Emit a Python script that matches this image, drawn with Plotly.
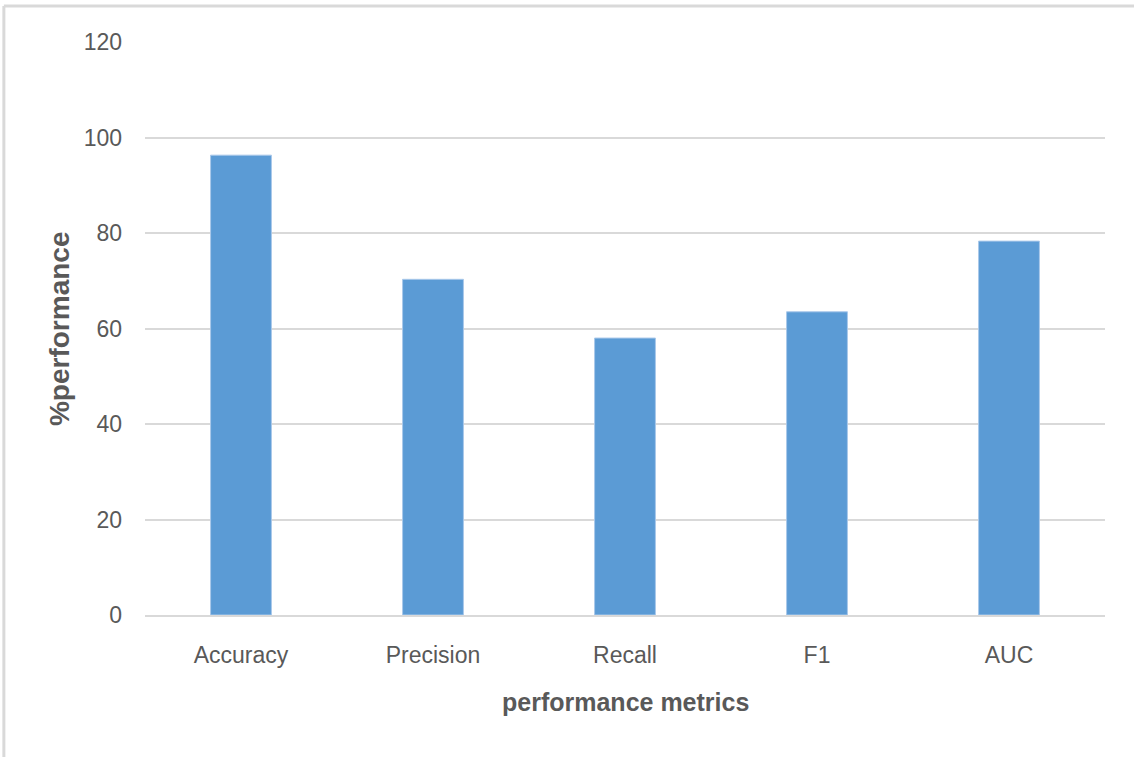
import plotly.graph_objects as go

# Metric names and their scores (%)
metrics = ["Accuracy", "Precision", "Recall", "F1", "AUC"]
scores = [96.3, 70.3, 58.0, 63.5, 78.3]
y_ticks = [0, 20, 40, 60, 80, 100, 120]

FONT = "Liberation Sans Narrow, Arial Narrow, Liberation Sans, sans-serif"
TEXT = "#595959"
GRID = "#d9d9d9"

fig = go.Figure(
    go.Bar(
        x=metrics,
        y=scores,
        width=0.317,
        marker=dict(color="#5b9bd5", line=dict(color="#a9c8ea", width=1)),
        hoverinfo="x+y",
    )
)

fig.update_layout(
    width=1134,
    height=757,
    paper_bgcolor="white",
    plot_bgcolor="white",
    showlegend=False,
    margin=dict(l=145, r=29, t=42, b=142),
    font=dict(family=FONT, color=TEXT, size=23),
    bargap=0.683,
    shapes=[
        # chart frame: top and left edges
        dict(type="line", xref="paper", yref="paper",
             x0=-0.147, x1=1.04, y0=1.0628, y1=1.0628,
             line=dict(color=GRID, width=3), layer="below"),
        dict(type="line", xref="paper", yref="paper",
             x0=-0.147, x1=-0.147, y0=-0.26, y1=1.0628,
             line=dict(color=GRID, width=3), layer="below"),
    ],
    annotations=[
        dict(text="<b>performance metrics</b>", xref="paper", yref="paper",
             x=0.5, y=-0.152, xanchor="center", yanchor="middle",
             showarrow=False, font=dict(size=25, color=TEXT, family=FONT)),
        dict(text="<b>%performance</b>", xref="paper", yref="paper",
             x=-0.089, y=0.5, xanchor="center", yanchor="middle", textangle=-90,
             showarrow=False, font=dict(size=28, color=TEXT, family=FONT)),
    ],
)

fig.update_xaxes(
    showgrid=False,
    showline=True,
    linecolor=GRID,
    linewidth=2,
    ticks="",
    tickfont=dict(size=23, color=TEXT, family=FONT),
    ticklabelstandoff=18,
)

fig.update_yaxes(
    range=[0, 120],
    tickvals=y_ticks,
    showgrid=True,
    gridcolor=GRID,
    gridwidth=2,
    zeroline=False,
    showline=False,
    ticks="",
    tickfont=dict(size=23, color=TEXT, family=FONT),
    ticklabelstandoff=22,
)

fig.write_html("out.html")
